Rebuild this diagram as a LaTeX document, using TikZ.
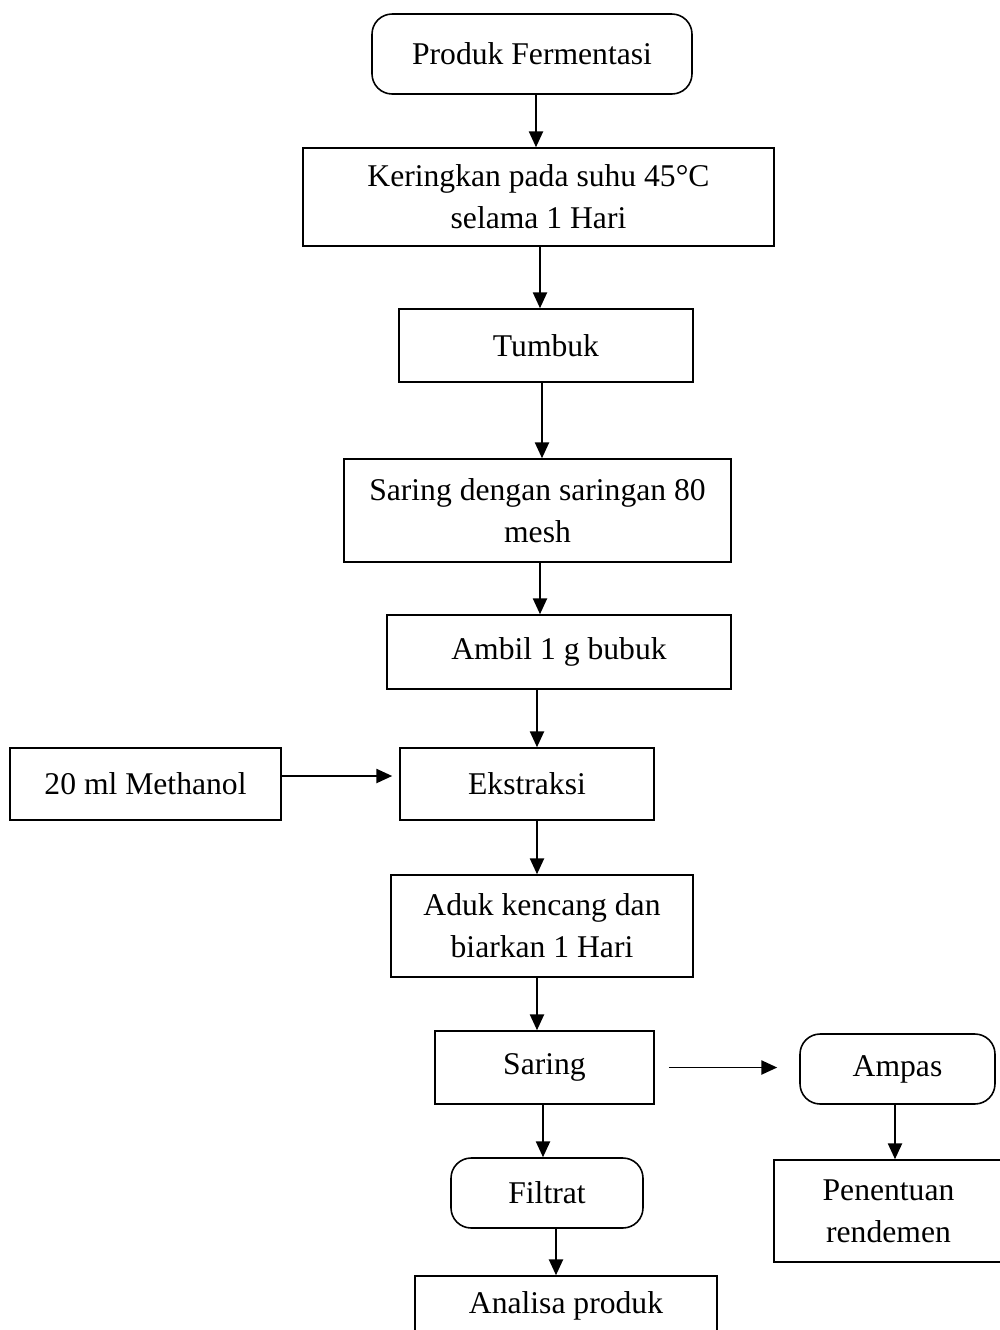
\documentclass[tikz,border=0pt]{standalone}
\usepackage{fontspec}
\setmainfont{Liberation Serif}
\usetikzlibrary{arrows.meta}
\tikzset{
  box/.style={draw,line width=0.9pt,rectangle,align=center,inner sep=2pt,font=\fontsize{18}{24}\selectfont},
  rbox/.style={box,rounded corners=2.5ex},
  arr/.style={line width=1.1pt,-{Triangle[width=8pt,length=9pt]}}
}
\begin{document}
\begin{tikzpicture}
        \useasboundingbox (0,0) rectangle (20,-26.6);
        \clip (0,0) rectangle (20,-26.6);
        %% Nodes
        \node[rbox,minimum width=6.4cm,minimum height=1.6cm] (prod) at (10.64,-1.08) {Produk Fermentasi};
        \node[box,minimum width=9.42cm,minimum height=1.96cm] (kering) at (10.77,-3.94) {Keringkan pada suhu 45°C\\selama 1 Hari};
        \node[box,minimum width=5.88cm,minimum height=1.46cm] (tumbuk) at (10.92,-6.91) {Tumbuk};
        \node[box,minimum width=7.74cm,minimum height=2.06cm] (saring80) at (10.75,-10.21) {Saring dengan saringan 80\\mesh};
        \node[box,minimum width=6.88cm,minimum height=1.48cm] (ambil) at (11.18,-13.04) {Ambil 1 g bubuk};
        \node[box,minimum width=5.42cm,minimum height=1.44cm] (methanol) at (2.91,-15.68) {20 ml Methanol};
        \node[box,minimum width=5.08cm,minimum height=1.44cm] (ekstraksi) at (10.54,-15.68) {Ekstraksi};
        \node[box,minimum width=6.04cm,minimum height=2.04cm] (aduk) at (10.84,-18.52) {Aduk kencang dan\\biarkan 1 Hari};
        \node[box,minimum width=4.38cm,minimum height=1.46cm] (saring) at (10.89,-21.35) {Saring};
        \node[rbox,minimum width=3.9cm,minimum height=1.4cm] (ampas) at (17.95,-21.38) {Ampas};
        \node[rbox,minimum width=3.84cm,minimum height=1.4cm] (filtrat) at (10.94,-23.86) {Filtrat};
        \node[box,minimum width=4.58cm,minimum height=2.04cm] (rendemen) at (17.77,-24.22) {Penentuan\\rendemen};
        \node[box,minimum width=6.04cm,minimum height=1.2cm] (analisa) at (11.32,-26.12) {Analisa produk};
        %% Arrows
        \draw[arr] ([xshift=0.08cm]prod.south) -- ([xshift=0.08cm]prod.south |- kering.north);
        \draw[arr] ([xshift=0.03cm]kering.south) -- ([xshift=0.03cm]kering.south |- tumbuk.north);
        \draw[arr] ([xshift=-0.08cm]tumbuk.south) -- ([xshift=-0.08cm]tumbuk.south |- saring80.north);
        \draw[arr] ([xshift=0.05cm]saring80.south) -- ([xshift=0.05cm]saring80.south |- ambil.north);
        \draw[arr] ([xshift=-0.44cm]ambil.south) -- ([xshift=-0.44cm]ambil.south |- ekstraksi.north);
        \draw[arr,shorten >=0.14cm] ([yshift=0.16cm]methanol.east) -- ([yshift=0.16cm]methanol.east -| ekstraksi.west);
        \draw[arr] ([xshift=0.2cm]ekstraksi.south) -- ([xshift=0.2cm]ekstraksi.south |- aduk.north);
        \draw[arr] ([xshift=-0.1cm]aduk.south) -- ([xshift=-0.1cm]aduk.south |- saring.north);
        \draw[arr,shorten <=0.28cm,shorten >=0.44cm] (saring.east) -- (saring.east -| ampas.west);
        \draw[arr] ([xshift=-0.03cm]saring.south) -- ([xshift=-0.03cm]saring.south |- filtrat.north);
        \draw[arr] ([xshift=-0.05cm]ampas.south) -- ([xshift=-0.05cm]ampas.south |- rendemen.north);
        \draw[arr] ([xshift=0.18cm]filtrat.south) -- ([xshift=0.18cm]filtrat.south |- analisa.north);
    \end{tikzpicture}
\end{document}
